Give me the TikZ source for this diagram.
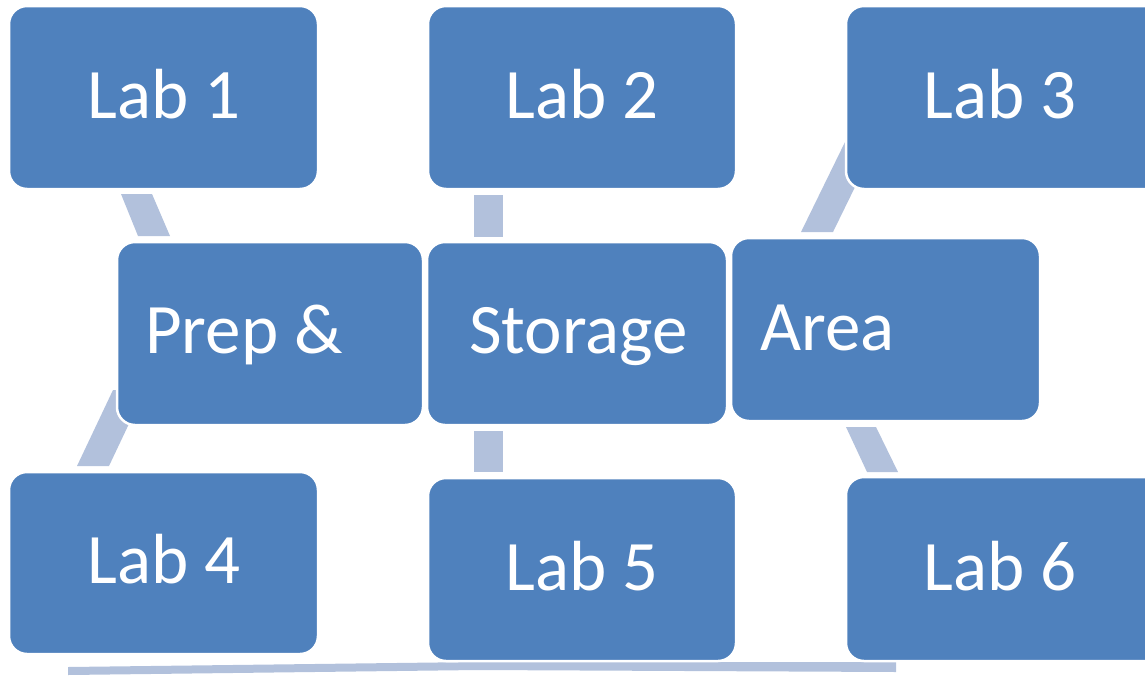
\documentclass[tikz,border=0pt]{standalone}
\usepackage{fontspec}
\setmainfont{Carlito}
\definecolor{boxblue}{HTML}{4F81BD}
\definecolor{bandblue}{HTML}{B2C1DC}
\tikzset{
  box/.style={draw=white, line width=2.5pt, fill=boxblue, rounded corners=18pt, inner sep=0pt},
  band/.style={fill=bandblue, draw=none},
  lbl/.style={text=white, inner sep=0pt, anchor=base, font=\fontsize{71}{85}\selectfont},
  lbll/.style={lbl, anchor=base west}
}
\begin{document}
\begin{tikzpicture}[x=1pt, y=-1pt]
\useasboundingbox (0,0) rectangle (1145,675);
\clip (0,0) rectangle (1145,675);
% connector bands
\coordinate (b1a) at (121,194); \coordinate (b1b) at (152,194);
\coordinate (b1c) at (170,236); \coordinate (b1d) at (138,236);
\fill[band] (b1a) -- (b1b) -- (b1c) -- (b1d) -- cycle;
\coordinate (b4a) at (113,390); \coordinate (b4b) at (145,390);
\coordinate (b4c) at (109,466); \coordinate (b4d) at (77,466);
\fill[band] (b4a) -- (b4b) -- (b4c) -- (b4d) -- cycle;
\coordinate (b2a) at (474,195); \coordinate (b2b) at (503,237);
\fill[band] (b2a) rectangle (b2b);
\coordinate (b5a) at (474,431); \coordinate (b5b) at (503,472);
\fill[band] (b5a) rectangle (b5b);
\coordinate (b3a) at (846,140); \coordinate (b3b) at (878,140);
\coordinate (b3c) at (833,232); \coordinate (b3d) at (801,232);
\fill[band] (b3a) -- (b3b) -- (b3c) -- (b3d) -- cycle;
\coordinate (b6a) at (846,427); \coordinate (b6b) at (876,427);
\coordinate (b6c) at (898,472); \coordinate (b6d) at (867,472);
\fill[band] (b6a) -- (b6b) -- (b6c) -- (b6d) -- cycle;
\coordinate (bba) at (68,667); \coordinate (bbb) at (478,662);
\coordinate (bbc) at (896,662); \coordinate (bbd) at (896,672);
\coordinate (bbe) at (478,670); \coordinate (bbf) at (68,675);
\fill[band] (bba) -- (bbb) -- (bbc) -- (bbd) -- (bbe) -- (bbf) -- cycle;
% boxes
\node[box, minimum width=309pt, minimum height=183pt] (lab1) at (163.5,97.5) {};
\node[box, minimum width=308pt, minimum height=183pt] (lab2) at (582,97.5) {};
\node[box, minimum width=320pt, minimum height=183pt] (lab3) at (1006,97.5) {};
\node[box, minimum width=309pt, minimum height=182pt] (lab4) at (163.5,563) {};
\node[box, minimum width=308pt, minimum height=183pt] (lab5) at (582,569.5) {};
\node[box, minimum width=320pt, minimum height=184pt] (lab6) at (1006,569) {};
\node[box, minimum width=306pt, minimum height=183pt] (prep) at (270,333.5) {};
\node[box, minimum width=300pt, minimum height=183pt] (stor) at (577,333.5) {};
\node[box, minimum width=309pt, minimum height=183pt] (area) at (885.5,329.5) {};
% labels
\node[lbl] (t1) at (164,118) {Lab 1};
\node[lbl] (t2) at (582,118) {Lab 2};
\node[lbl] (t3) at (1000,118) {Lab 3};
\node[lbl] (t4) at (164,583) {Lab 4};
\node[lbl] (t5) at (582,590) {Lab 5};
\node[lbl] (t6) at (1000,590) {Lab 6};
\node[lbll] (tp) at (145,353) {Prep \&};
\node[lbll] (ts) at (469,353) {Storage};
\node[lbll] (ta) at (760,350) {Area};
\end{tikzpicture}
\end{document}
